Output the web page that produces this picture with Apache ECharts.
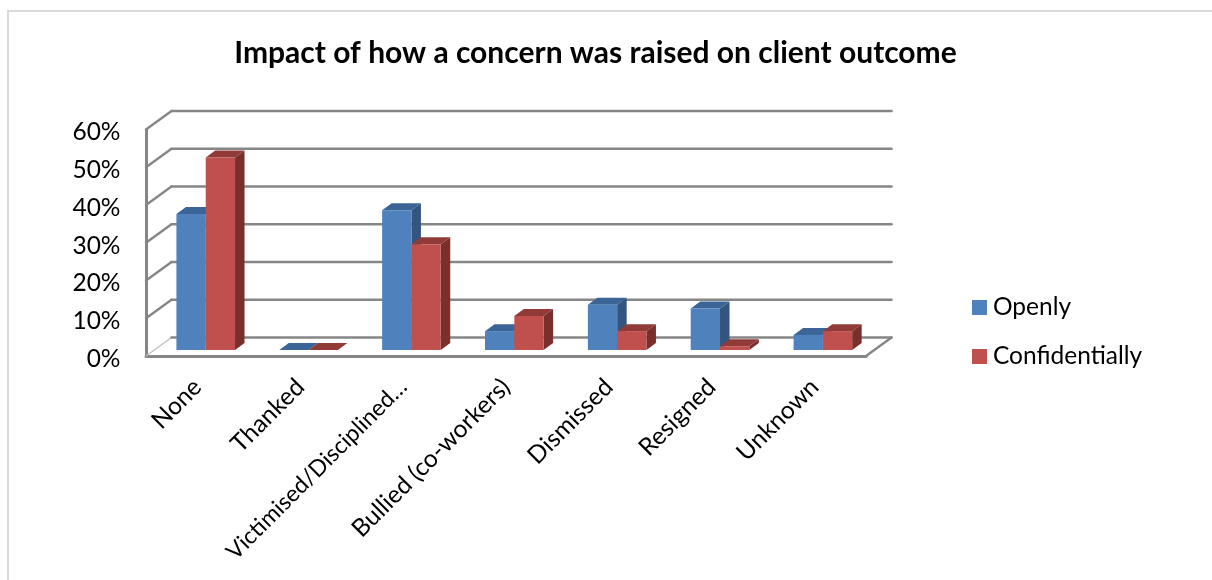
<!DOCTYPE html>
<html>
<head>
<meta charset="utf-8">
<style>html,body{margin:0;padding:0;background:#fff}#chart{width:1212px;height:580px}</style>
<script src="https://cdn.jsdelivr.net/npm/echarts@6/dist/echarts.min.js"></script>
</head>
<body>
<div id="chart"></div>
<script>
const categories = ['None', 'Thanked', 'Victimised/Disciplined…', 'Bullied (co-workers)', 'Dismissed', 'Resigned', 'Unknown'];
const openly = [36, 0, 37, 5, 12, 11, 4];
const confidentially = [51, 0, 28, 9, 5, 1, 5];
const yTicks = [0, 10, 20, 30, 40, 50, 60];

const FONT = 'Lato, "Open Sans", sans-serif';
// Oblique projection: wall depth, and where the bars stand on the floor
const WALL_DX = 25.5, WALL_DY = -18.5;
const BAR_DX = 8.3, BAR_DY = -6;
const BAR_DEPTH_X = 9.5, BAR_DEPTH_Y = -7;
const BAR_W = 29.3;
const WALL = '#868686';

function poly(points, fill) {
  return { type: 'polygon', shape: { points }, style: { fill, stroke: null } };
}

// One 3D column: front face, top face, right side face
function columnRenderer(side, front, top, dark) {
  return function (params, api) {
    const base = api.coord([api.value(0), 0]);
    const head = api.coord([api.value(0), api.value(1)]);
    const x0 = base[0] + BAR_DX + (side < 0 ? -BAR_W : 0);
    const x1 = x0 + BAR_W;
    const yb = base[1] + BAR_DY;
    const yt = head[1] + BAR_DY;
    const dx = BAR_DEPTH_X, dy = BAR_DEPTH_Y;
    return {
      type: 'group',
      children: [
        poly([[x1, yb], [x1 + dx, yb + dy], [x1 + dx, yt + dy], [x1, yt]], dark),
        poly([[x0, yt], [x1, yt], [x1 + dx, yt + dy], [x0 + dx, yt + dy]], top),
        poly([[x0, yb], [x1, yb], [x1, yt], [x0, yt]], front)
      ]
    };
  };
}

// Gridlines wrapped around the side wall and back wall; value 0 also closes the floor
function wallRenderer(params, api) {
  const r = params.coordSys;
  const v = api.value(0);
  const y = api.coord([0, v])[1];
  const x0 = r.x, x1 = r.x + r.width;
  const line = (a, b, color, w) => ({
    type: 'line',
    shape: { x1: a[0], y1: a[1], x2: b[0], y2: b[1] },
    style: { stroke: color, lineWidth: w, lineCap: 'round' }
  });
  const back = [x0 + WALL_DX, y + WALL_DY];
  const backEnd = [x1 + WALL_DX, y + WALL_DY];
  const children = [
    line([x0, y], back, v === 0 ? '#bdbdbd' : WALL, v === 0 ? 1.2 : 2.4),
    line(back, backEnd, WALL, 2.6)
  ];
  if (v === 0) children.push(line([x1, y], backEnd, WALL, 2.4));
  return { type: 'group', children };
}

const chart = echarts.init(document.getElementById('chart'), null, { renderer: 'canvas' });
chart.setOption({
  animation: false,
  backgroundColor: '#ffffff',
  title: {
    text: 'Impact of how a concern was raised on client outcome',
    left: 590.5, top: 33, textAlign: 'center',
    textStyle: { fontFamily: FONT, fontSize: 30, fontWeight: 'bold', color: '#000' }
  },
  graphic: [{
    type: 'polyline',
    shape: { points: [[8, 580], [8, 11], [1212, 11]] },
    style: { stroke: '#d9d9d9', lineWidth: 2, fill: null }
  }],
  legend: {
    orient: 'vertical',
    left: 972, top: 295,
    padding: 0,
    itemWidth: 15, itemHeight: 15, itemGap: 24,
    data: [
      { name: 'Openly', icon: 'rect' },
      { name: 'Confidentially', icon: 'rect' }
    ],
    textStyle: { fontFamily: FONT, fontSize: 24.5, color: '#000', padding: [0, 0, 0, 1] }
  },
  grid: { left: 146, width: 720, top: 129.5, height: 226.5 },
  xAxis: {
    type: 'category',
    // the long truncated label is set a little smaller to keep its run
    data: categories.map(c => c.endsWith('…') ? { value: c, textStyle: { fontSize: 23 } } : c),
    axisTick: { show: false },
    axisLine: { show: true, lineStyle: { color: WALL, width: 3 } },
    axisLabel: {
      interval: 0, rotate: 45, margin: 27,
      fontFamily: FONT, fontSize: 24.5, color: '#000'
    }
  },
  yAxis: {
    type: 'value',
    min: 0, max: 60, interval: 10,
    axisLine: { show: true, lineStyle: { color: WALL, width: 3 } },
    axisTick: { show: false },
    splitLine: { show: false },
    axisLabel: {
      margin: 25.5,
      formatter: v => `{v|${v}%}`,
      rich: { v: { padding: [6, 0, 0, 0], fontFamily: FONT, fontSize: 24.5, color: '#000' } }
    }
  },
  series: [
    {
      type: 'custom', name: 'walls', silent: true, clip: false, z: 1,
      data: yTicks.map(v => [v]),
      encode: { y: 0 },
      renderItem: wallRenderer
    },
    {
      type: 'custom', name: 'Openly', clip: false, z: 2,
      itemStyle: { color: '#4f81bd' },
      data: openly.map((v, i) => [i, v]),
      encode: { x: 0, y: 1 },
      renderItem: columnRenderer(-1, '#4f81bd', '#3b6596', '#33557f')
    },
    {
      type: 'custom', name: 'Confidentially', clip: false, z: 3,
      itemStyle: { color: '#c0504d' },
      data: confidentially.map((v, i) => [i, v]),
      encode: { x: 0, y: 1 },
      renderItem: columnRenderer(1, '#c0504d', '#913b39', '#7b2f2d')
    }
  ]
});
</script>
</body>
</html>
